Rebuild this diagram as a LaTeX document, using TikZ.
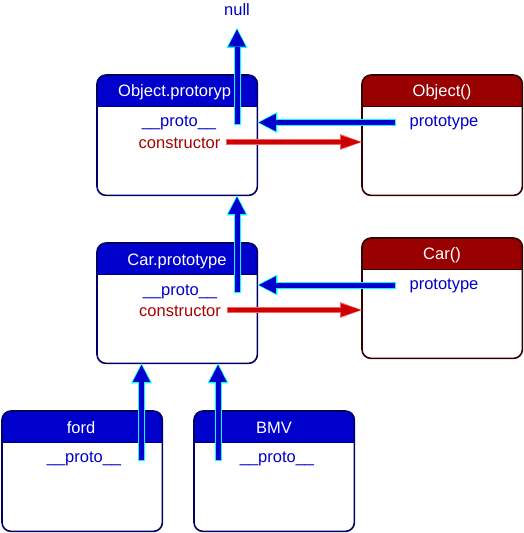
\documentclass[tikz,border=0pt]{standalone}
\usepackage{fontspec}
\setmainfont{Liberation Sans}
\usetikzlibrary{arrows.meta}
\definecolor{hdrblue}{HTML}{0000CC}
\definecolor{hdrred}{HTML}{990000}
\definecolor{bordblue}{HTML}{000066}
\definecolor{bordred}{HTML}{330000}
\definecolor{txtblue}{HTML}{0000CC}
\definecolor{txtred}{HTML}{AA0000}
\definecolor{arrblue}{HTML}{0000CC}
\definecolor{arrcyan}{HTML}{00FFFF}
\definecolor{arrred}{HTML}{CC0000}
\definecolor{arrpink}{HTML}{FF6060}
\tikzset{
  boxnode/.style={rectangle, minimum width=160pt, minimum height=120pt, inner sep=0pt, draw=none},
  hdrtext/.style={text=white, font=\fontsize{16.5}{19}\selectfont, inner sep=0pt, anchor=base},
  bluetext/.style={text=txtblue, font=\fontsize{16.5}{19}\selectfont, inner sep=0pt, anchor=base},
  redtext/.style={text=txtred, font=\fontsize{16.5}{19}\selectfont, inner sep=0pt, anchor=base}
}
\newcommand\umlbox[5]{%
  \node[boxnode, anchor=north west] (#1) at (#2,#3) {};
  \begin{scope}
    \clip (#2-2,#3-2) rectangle (#2+162,#3+31);
    \fill[#4, rounded corners=9pt] (#1.north west) rectangle (#1.south east);
  \end{scope}
  \draw[#5, line width=1pt] (#2,#3+31) -- (#2+160,#3+31);
  \draw[#5, line width=1.6pt, rounded corners=9pt] (#1.north west) rectangle (#1.south east);
}
\newcommand\bluearr[2]{%
  \draw[line width=7pt, arrcyan, shorten <=-1pt, -{Triangle[length=20pt,width=21pt,line width=0pt]}] (#1) -- (#2);
  \draw[line width=5pt, arrblue, shorten >=1.5pt, -{Triangle[length=17pt,width=17.5pt,line width=0pt]}] (#1) -- (#2);
}
\newcommand\redarr[2]{%
  \draw[line width=6.5pt, arrpink, shorten <=-1pt, -{Triangle[length=22pt,width=16pt,line width=0pt]}] (#1) -- (#2);
  \draw[line width=4.5pt, arrred, shorten >=1.5pt, -{Triangle[length=19.5pt,width=13pt,line width=0pt]}] (#1) -- (#2);
}
\begin{document}
\begin{tikzpicture}[x=1pt, y=-1pt]
\useasboundingbox (0,0) rectangle (523,533);
% boxes
\umlbox{op}{97}{75}{hdrblue}{bordblue}
\umlbox{oc}{362}{75}{hdrred}{bordred}
\umlbox{cp}{97}{243}{hdrblue}{bordblue}
\umlbox{cc}{362}{238}{hdrred}{bordred}
\umlbox{ford}{2}{411}{hdrblue}{bordblue}
\umlbox{bmv}{194}{411}{hdrblue}{bordblue}
% header texts
\node[hdrtext, anchor=base west] (optitle) at (118,96.5) {Object.protoryp};
\node[hdrtext] (octitle) at (442,96.5) {Object()};
\node[hdrtext] (cptitle) at (177,265) {Car.prototype};
\node[hdrtext] (cctitle) at (442,259.5) {Car()};
\node[hdrtext] (fordtitle) at (81,433) {ford};
\node[hdrtext] (bmvtitle) at (274,433) {BMV};
% body texts
\node[bluetext] (nulltxt) at (237,15) {null};
\node[bluetext] (opproto) at (179,126.5) {\_\_proto\_\_};
\node[redtext] (opcons) at (179.5,148) {constructor};
\node[bluetext] (ocproto) at (444,126) {prototype};
\node[bluetext] (cpproto) at (180,295) {\_\_proto\_\_};
\node[redtext] (cpcons) at (180,316) {constructor};
\node[bluetext] (ccproto) at (444,289) {prototype};
\node[bluetext] (fordproto) at (84,462.5) {\_\_proto\_\_};
\node[bluetext] (bmvproto) at (277,462.5) {\_\_proto\_\_};
% connector ends
\coordinate (s1) at (237,124);
\coordinate (nulltip) at (237,28);
\coordinate (s2) at (395,122.5);
\coordinate (s3) at (227,142);
\coordinate (s4) at (237,292);
\coordinate (s5) at (395,285);
\coordinate (s6) at (228,310);
\coordinate (s7) at (141.5,460);
\coordinate (s8) at (218,460);
% connectors
\bluearr{s1}{nulltip}
\bluearr{s2}{op.east |- s2}
\redarr{s3}{oc.west |- s3}
\bluearr{s4}{op.south -| s4}
\bluearr{s5}{cp.east |- s5}
\redarr{s6}{cc.west |- s6}
\bluearr{s7}{cp.south -| s7}
\bluearr{s8}{cp.south -| s8}
\end{tikzpicture}
\end{document}
